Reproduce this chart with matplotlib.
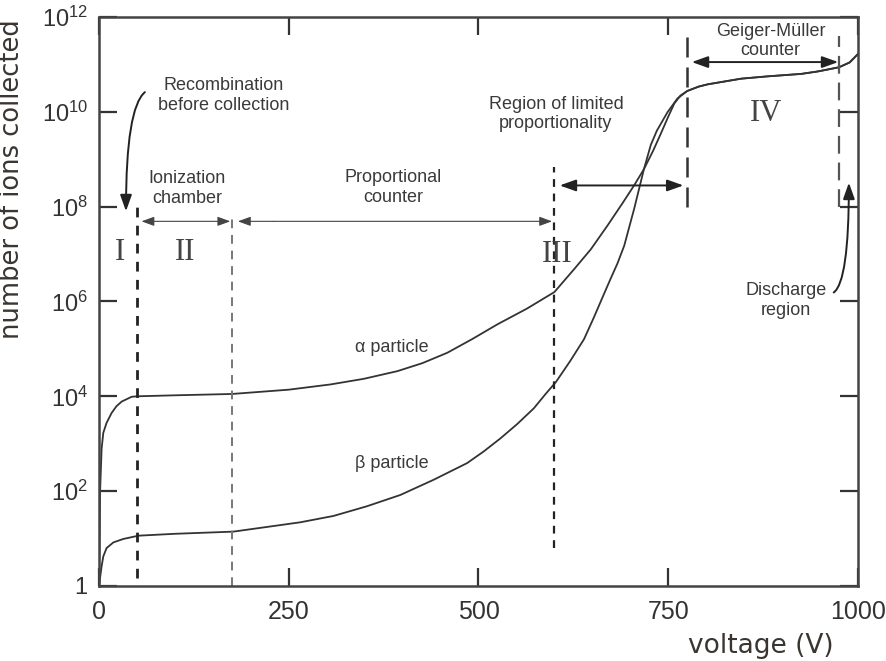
import matplotlib
matplotlib.use("Agg")
import matplotlib.pyplot as plt

plt.rcParams['font.family'] = ['Liberation Sans', 'DejaVu Sans']
plt.rcParams['mathtext.fontset'] = 'custom'
plt.rcParams['mathtext.rm'] = 'Liberation Sans'
plt.rcParams['mathtext.it'] = 'Liberation Sans:italic'

# ---- data ----
alpha_voltage = [0, 1.5, 3.5, 5.7, 10, 16.7, 23, 30, 43, 50, 100, 175, 250, 305, 349, 393,
                 426, 459, 492, 525, 564, 600, 626, 648, 670, 690, 705, 718, 730, 740,
                 750, 758, 766, 775, 790, 802, 846, 881, 925, 947, 975, 989, 1000]
alpha_ions = [1, 1e2, 7.9e2, 1.7e3, 2.75e3, 4.47e3, 6.17e3, 7.76e3, 9.77e3, 1.0e4, 1.05e4,
              1.12e4, 1.38e4, 1.78e4, 2.34e4, 3.39e4, 5.0e4, 8.3e4, 1.62e5, 3.3e5,
              7.1e5, 1.58e6, 4.8e6, 1.26e7, 4.0e7, 1.2e8, 2.8e8, 6.2e8, 1.5e9, 3.4e9,
              7.9e9, 1.5e10, 2.2e10, 2.75e10, 3.4e10, 3.8e10, 5.0e10, 5.6e10, 6.3e10,
              7.1e10, 8.7e10, 1.1e11, 1.66e11]

beta_voltage = [0, 3.5, 5.7, 10, 19, 32, 52, 100, 177, 265, 309, 353, 397, 441, 485, 507,
                529, 551, 573, 588, 602, 621, 639, 652, 665, 674, 683, 692, 705, 718, 727,
                735, 749, 762, 775, 790, 802, 846, 881, 925, 947, 975, 989, 1000]
beta_ions = [1, 2.6, 4.2, 6.3, 8.3, 9.8, 11.5, 12.6, 14, 22, 30, 48, 83, 174, 390, 690,
             1.3e3, 2.6e3, 5.6e3, 1.1e4, 2.0e4, 5.6e4, 1.6e5, 4.6e5, 1.4e6, 3.0e6, 6.3e6,
             1.5e7, 8.9e7, 6.2e8, 2.0e9, 4.0e9, 9.8e9, 1.9e10, 2.75e10, 3.4e10, 3.8e10,
             5.0e10, 5.6e10, 6.3e10, 7.1e10, 8.7e10, 1.1e11, 1.66e11]

x_ticks = [0, 250, 500, 750, 1000]
x_tick_labels = ['0', '250', '500', '750', '1000']
y_ticks = [1, 1e2, 1e4, 1e6, 1e8, 1e10, 1e12]
y_tick_labels = ['1', r'$10^{2}$', r'$10^{4}$', r'$10^{6}$', r'$10^{8}$', r'$10^{10}$', r'$10^{12}$']

# region boundaries: voltage, bottom, top
boundary_voltage = [50, 175, 600, 775, 975]
boundary_bottom = [1.5, 1, 6.3, 1e8, 1e8]
boundary_top = [1.1e8, 6.3e7, 6.8e8, 4.4e11, 4.0e11]

roman_labels = ['I', 'II', 'III', 'IV']
roman_voltage = [28, 114, 604, 879]
roman_ions = [1.1e7, 1.1e7, 1.0e7, 9e9]

TXT = '#3a3a3a'

fig = plt.figure(figsize=(8.86, 6.61), dpi=100)
ax = fig.add_axes([0.1117, 0.1135, 0.8567, 0.8608])
ax.set_yscale('log')
ax.set_xlim(0, 1000)
ax.set_ylim(1, 1e12)

ax.plot(alpha_voltage, alpha_ions, color='#333333', lw=1.3)
ax.plot(beta_voltage, beta_ions, color='#333333', lw=1.3)

# dashed region boundaries
styles = [
    dict(color='#222222', lw=2.0, dashes=(3.5, 3.0)),
    dict(color='#777777', lw=1.4, dashes=(4.5, 3.5)),
    dict(color='#222222', lw=1.6, dashes=(3.5, 3.0)),
    dict(color='#333333', lw=1.8, dashes=(8, 4)),
    dict(color='#555555', lw=1.6, dashes=(8, 4)),
]
for v, b, t, st in zip(boundary_voltage, boundary_bottom, boundary_top, styles):
    ax.plot([v, v], [b, t], **st)

# axes styling
for s in ax.spines.values():
    s.set_linewidth(1.8)
    s.set_color('#444444')
ax.set_xticks(x_ticks)
ax.set_xticklabels(x_tick_labels)
ax.set_yticks(y_ticks)
ax.set_yticklabels(y_tick_labels)
ax.minorticks_off()
ax.tick_params(axis='both', which='major', direction='in', length=13, width=1.6,
               color='#333333', top=True, right=True, labelcolor='#333333')
ax.tick_params(axis='x', labelsize=18, pad=10)
ax.tick_params(axis='y', labelsize=17, pad=8)

ax.set_xlabel('voltage (V)', fontsize=19, color='#3a3530', family='DejaVu Sans')
ax.xaxis.set_label_coords(0.872, -0.082)
ax.set_ylabel('number of ions collected', fontsize=18.5, color='#3a3530', family='DejaVu Sans')
ax.yaxis.set_label_coords(-0.097, 0.715)

# annotations text
tk = dict(ha='center', va='center', color=TXT, fontsize=13, linespacing=1.2)
ax.text(164, 2.2e10, 'Recombination\nbefore collection', **tk)
ax.text(116, 2.4e8, 'Ionization\nchamber', **tk)
ax.text(388, 2.5e8, 'Proportional\ncounter', **tk)
ax.text(602, 9e9, 'Region of limited\nproportionality', **tk)
ax.text(885, 3.1e11, 'Geiger-Müller\ncounter', **tk)
ax.text(905, 1.05e6, 'Discharge\nregion', **tk)
ax.text(386, 1.07e5, 'α particle', **tk)
ax.text(386, 3.8e2, 'β particle', **tk)

for lab, v, n in zip(roman_labels, roman_voltage, roman_ions):
    ax.text(v, n, lab, ha='center', va='center', fontsize=22, color='#444444',
            family='Liberation Serif')

# range arrows
thin = dict(arrowstyle='<|-|>,head_length=0.55,head_width=0.2', color='#444444', lw=0.8,
            shrinkA=0, shrinkB=0, mutation_scale=14)
thick = dict(arrowstyle='<|-|>,head_length=0.7,head_width=0.25', color='#222222', lw=1.4,
             shrinkA=0, shrinkB=0, mutation_scale=14)
single = dict(thin, arrowstyle='-|>,head_length=0.55,head_width=0.2')
ax.annotate('', xy=(173, 4.9e7), xytext=(56, 4.9e7), arrowprops=thin)
ax.annotate('', xy=(597, 4.9e7), xytext=(230, 4.9e7), arrowprops=single)
ax.annotate('', xy=(183, 4.9e7), xytext=(230, 4.9e7), arrowprops=single)
ax.annotate('', xy=(770, 2.8e8), xytext=(607, 2.8e8), arrowprops=thick)
ax.annotate('', xy=(974, 1.12e11), xytext=(781, 1.12e11), arrowprops=thick)

# curved pointer arrows
ax.annotate('', xy=(35.6, 8e7), xytext=(60.5, 2.6e10),
            arrowprops=dict(arrowstyle='-|>,head_length=0.7,head_width=0.25', color='#222222',
                            lw=1.4, shrinkA=0, shrinkB=0, mutation_scale=14,
                            connectionstyle='angle3,angleA=40,angleB=90'))
ax.annotate('', xy=(988, 3.2e8), xytext=(968, 1.55e6),
            arrowprops=dict(arrowstyle='-|>,head_length=0.7,head_width=0.25', color='#222222',
                            lw=1.4, shrinkA=0, shrinkB=0, mutation_scale=14,
                            connectionstyle='angle3,angleA=35,angleB=90'))

fig.savefig('out.png', dpi=100)
